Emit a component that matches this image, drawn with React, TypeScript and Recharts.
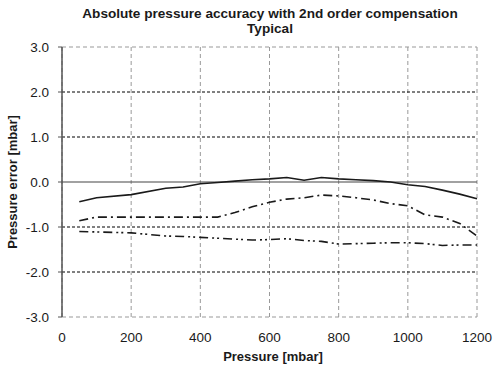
import { LineChart, Line, XAxis, YAxis, CartesianGrid, ReferenceLine } from 'recharts';

const pressure = [50, 100, 200, 300, 350, 400, 450, 500, 550, 600, 650, 700, 750, 800, 850, 900, 950, 1000, 1050, 1100, 1150, 1200];
const solidErr = [-0.44, -0.35, -0.28, -0.14, -0.11, -0.04, -0.01, 0.02, 0.05, 0.07, 0.1, 0.04, 0.1, 0.07, 0.05, 0.03, 0.0, -0.06, -0.1, -0.18, -0.27, -0.37];
const dashDotErr = [-0.86, -0.78, -0.78, -0.78, -0.78, -0.78, -0.78, -0.68, -0.55, -0.45, -0.38, -0.35, -0.29, -0.31, -0.35, -0.4, -0.48, -0.53, -0.73, -0.78, -0.92, -1.2];
const dashDotDotErr = [-1.1, -1.11, -1.13, -1.2, -1.21, -1.23, -1.25, -1.27, -1.29, -1.28, -1.26, -1.3, -1.32, -1.38, -1.37, -1.36, -1.35, -1.35, -1.37, -1.41, -1.4, -1.4];

const xTicks = [0, 200, 400, 600, 800, 1000, 1200];
const yTicks = [-3, -2, -1, 0, 1, 2, 3];
const innerGrid = [-2, -1, 1, 2];

const data = pressure.map((p, i) => ({
  p,
  solid: solidErr[i],
  dashDot: dashDotErr[i],
  dashDotDot: dashDotDotErr[i],
}));

const font = '"Liberation Sans", Arial, sans-serif';
const ink = '#1a1a1a';

export default function App() {
  return (
    <div style={{ position: 'absolute', left: 0, top: 0, width: 494, height: 369, background: '#fff', fontFamily: font }}>
      <div style={{ position: 'absolute', left: 50, width: 440, top: 6, textAlign: 'center', fontWeight: 'bold', fontSize: 13.6, lineHeight: '15px', color: ink }}>
        Absolute pressure accuracy with 2nd order compensation
        <br />
        Typical
      </div>
      <div style={{ position: 'absolute', left: 12, top: 182, transform: 'translate(-50%, -50%) rotate(-90deg)', whiteSpace: 'nowrap', fontWeight: 'bold', fontSize: 13, color: ink }}>
        Pressure error [mbar]
      </div>
      <div style={{ position: 'absolute', left: 273, top: 356, transform: 'translate(-50%, -50%)', whiteSpace: 'nowrap', fontWeight: 'bold', fontSize: 13, color: ink }}>
        Pressure [mbar]
      </div>
      <LineChart width={494} height={369} data={data} margin={{ top: 47, right: 17, bottom: 22, left: 0 }}>
        <CartesianGrid horizontal={false} stroke="#999" strokeDasharray="4 3" />
        {innerGrid.map((v) => (
          <ReferenceLine key={v} y={v} stroke="#000" strokeDasharray="3 2" strokeWidth={1} />
        ))}
        <ReferenceLine y={3} stroke="#999" strokeDasharray="4 3" />
        <ReferenceLine y={-3} stroke="#999" strokeDasharray="4 3" />
        <ReferenceLine y={0} stroke="#444" strokeWidth={1.2} />
        <XAxis
          dataKey="p"
          type="number"
          domain={[0, 1200]}
          ticks={xTicks}
          height={30}
          axisLine={false}
          tickLine={false}
          tickSize={0}
          tickMargin={15}
          tick={{ fontSize: 13.5, fill: ink, fontFamily: font }}
        />
        <YAxis
          type="number"
          domain={[-3, 3]}
          ticks={yTicks}
          width={62}
          axisLine={{ stroke: '#555', strokeWidth: 1.5 }}
          tickLine={{ stroke: '#555' }}
          tickSize={4}
          tickMargin={9}
          tickFormatter={(v: number) => v.toFixed(1)}
          tick={{ fontSize: 13.5, fill: ink, fontFamily: font }}
        />
        <Line type="linear" dataKey="solid" stroke={ink} strokeWidth={1.6} dot={false} isAnimationActive={false} />
        <Line type="linear" dataKey="dashDot" stroke={ink} strokeWidth={1.6} strokeDasharray="9 4 2 4" dot={false} isAnimationActive={false} />
        <Line type="linear" dataKey="dashDotDot" stroke={ink} strokeWidth={1.6} strokeDasharray="9 4 2 3 2 4" dot={false} isAnimationActive={false} />
      </LineChart>
    </div>
  );
}
